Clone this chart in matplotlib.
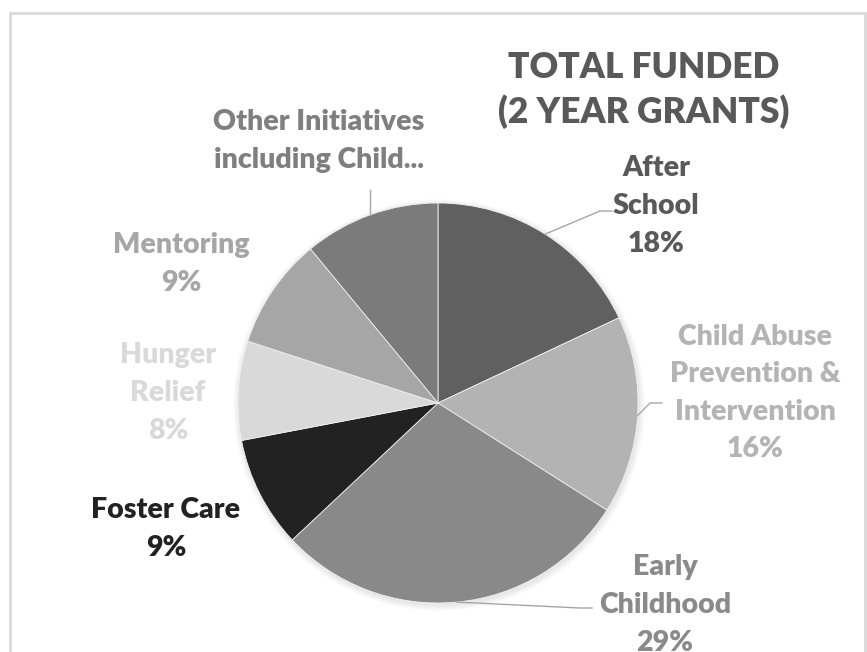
import numpy as np
import matplotlib.pyplot as plt
from matplotlib.patches import Rectangle, Circle

# data
labels = ['After\nSchool', 'Child Abuse\nPrevention &\nIntervention', 'Early\nChildhood',
          'Foster Care', 'Hunger\nRelief', 'Mentoring', 'Other Initiatives\nincluding Child...']
shares = [18, 16, 29, 9, 8, 9, 11]
show_pct = [True, True, True, True, True, True, False]
slice_colors = ['#606060', '#b3b3b3', '#898989', '#222222', '#d9d9d9', '#a6a6a6', '#7b7b7b']
text_colors = ['#595959', '#b4b4b4', '#8a8a8a', '#222222', '#d9d9d9', '#a6a6a6', '#7f7f7f']

W, H = 867, 652
# label centres in pixels (x, y from top)
label_pos = [(656, 206), (755, 393), (665, 605), (166, 529), (168, 393), (181, 264), (319, 141)]
# where the leader line meets the label (None = no leader)
leader_end = [(612, 211), (662, 403), (592, 608), None, None, None, (367, 190)]

plt.rcParams['font.family'] = ['Lato', 'DejaVu Sans']
fig = plt.figure(figsize=(W / 100, H / 100), dpi=100)
ax = fig.add_axes([0, 0, 1, 1])

def py(y):
    return H - y

cx, cy, r = 438, py(403), 200

# soft shadow
for k in range(8):
    ax.add_patch(Circle((cx + 1, cy - 2), r + 6 - k * 0.8, color='black', alpha=0.012, lw=0))

wedges, _ = ax.pie(shares, colors=slice_colors, startangle=90, counterclock=False,
                   center=(cx, cy), radius=r, frame=True,
                   wedgeprops=dict(edgecolor='#f0f0f0', linewidth=0.6))
ax.set_xlim(0, W)
ax.set_ylim(0, H)
ax.set_aspect('equal')
ax.axis('off')

for i, w in enumerate(wedges):
    txt = labels[i] + ('\n%d%%' % shares[i] if show_pct[i] else '')
    lx, ly = label_pos[i]
    ax.text(lx, py(ly), txt, ha='center', va='center', fontsize=20.5, fontweight='heavy',
            color=text_colors[i], linespacing=1.55)
    if leader_end[i] is not None:
        ang = np.deg2rad((w.theta1 + w.theta2) / 2)
        sx, sy = cx + r * np.cos(ang), cy + r * np.sin(ang)
        ex, ey = leader_end[i]
        ey = py(ey)
        if i == 6:
            ax.plot([sx, sx], [sy, ey], color='#a6a6a6', lw=1)
        else:
            elbow_x = ex - 12
            ax.plot([sx, elbow_x, ex], [sy, ey, ey], color='#a6a6a6', lw=1)

ax.text(644, py(90), 'TOTAL FUNDED\n(2 YEAR GRANTS)', ha='center', va='center',
        fontsize=25.5, fontweight='heavy', color='#595959', linespacing=1.38)

# chart border
ax.add_patch(Rectangle((10, -10), 855, py(13) + 10, fill=False, edgecolor='#d9d9d9', lw=2))

fig.savefig('out.png', dpi=100)
